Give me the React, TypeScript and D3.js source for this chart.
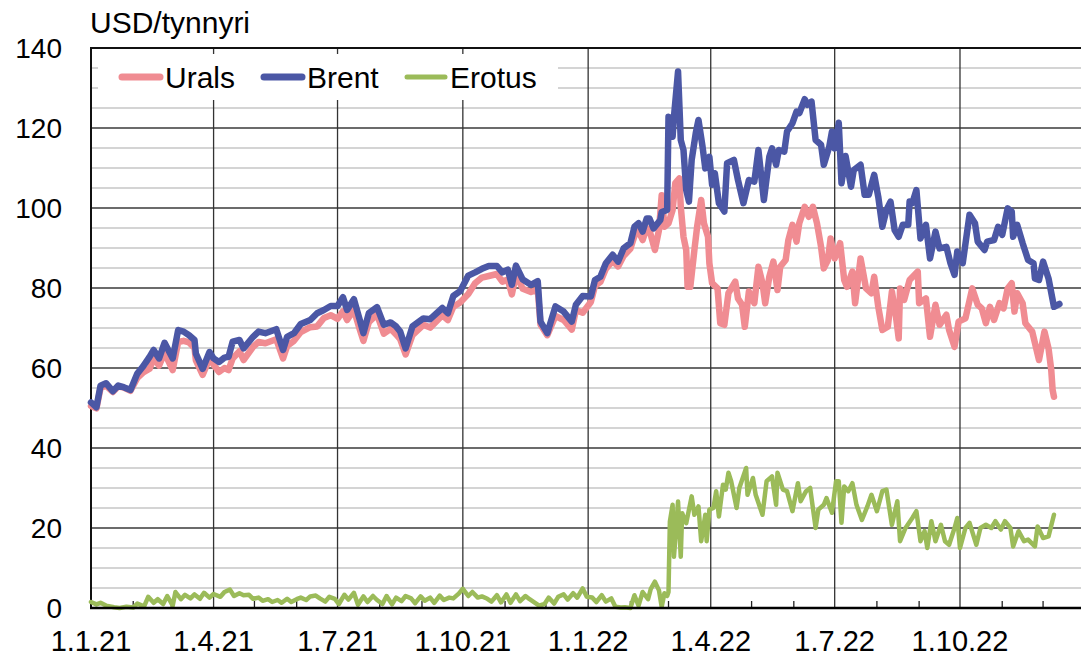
import * as d3 from "d3";
import { useEffect, useRef } from "react";

type Point = [string, number];

const urals: Point[] = [
    ["2021-01-01", 50.5], ["2021-01-05", 49.9], ["2021-01-08", 55.0], ["2021-01-12", 55.6], ["2021-01-17", 54.0],
    ["2021-01-21", 55.4], ["2021-01-25", 55.1], ["2021-01-30", 54.3], ["2021-02-04", 57.5], ["2021-02-08", 58.8],
    ["2021-02-13", 59.8], ["2021-02-16", 62.5], ["2021-02-20", 60.6], ["2021-02-24", 63.8], ["2021-03-02", 59.5],
    ["2021-03-06", 66.5], ["2021-03-10", 66.8], ["2021-03-14", 66.4], ["2021-03-18", 65.0], ["2021-03-19", 61.9],
    ["2021-03-24", 58.3], ["2021-03-29", 62.4], ["2021-04-01", 60.8], ["2021-04-05", 59.0], ["2021-04-09", 60.0],
    ["2021-04-12", 59.5], ["2021-04-15", 62.4], ["2021-04-20", 64.2], ["2021-04-23", 62.0], ["2021-04-30", 65.3],
    ["2021-05-04", 66.5], ["2021-05-09", 66.2], ["2021-05-17", 67.2], ["2021-05-22", 62.4], ["2021-05-25", 65.5],
    ["2021-05-30", 66.8], ["2021-06-04", 69.0], ["2021-06-11", 70.2], ["2021-06-16", 70.4], ["2021-06-21", 72.5],
    ["2021-06-26", 73.2], ["2021-07-01", 72.3], ["2021-07-05", 74.2], ["2021-07-08", 72.0], ["2021-07-13", 74.6],
    ["2021-07-17", 70.0], ["2021-07-20", 66.8], ["2021-07-24", 71.5], ["2021-07-30", 73.4], ["2021-08-04", 68.6],
    ["2021-08-09", 69.8], ["2021-08-13", 68.4], ["2021-08-16", 67.2], ["2021-08-20", 63.4], ["2021-08-25", 68.2],
    ["2021-09-02", 70.8], ["2021-09-07", 70.1], ["2021-09-16", 73.2], ["2021-09-20", 72.0], ["2021-09-24", 75.3],
    ["2021-09-29", 76.4], ["2021-10-05", 78.5], ["2021-10-10", 81.2], ["2021-10-15", 82.6], ["2021-10-20", 83.0],
    ["2021-10-26", 83.5], ["2021-10-30", 81.6], ["2021-11-03", 82.1], ["2021-11-06", 78.4], ["2021-11-09", 83.4],
    ["2021-11-14", 79.8], ["2021-11-20", 79.0], ["2021-11-25", 79.6], ["2021-11-27", 70.9], ["2021-12-02", 68.2],
    ["2021-12-08", 73.0], ["2021-12-14", 72.0], ["2021-12-20", 69.6], ["2021-12-23", 74.5], ["2021-12-28", 73.8],
    ["2022-01-03", 76.5], ["2022-01-06", 80.5], ["2022-01-10", 81.5], ["2022-01-14", 84.8], ["2022-01-19", 86.8],
    ["2022-01-23", 85.4], ["2022-01-27", 88.0], ["2022-02-01", 89.8], ["2022-02-04", 93.0], ["2022-02-07", 94.2],
    ["2022-02-10", 92.0], ["2022-02-13", 95.0], ["2022-02-15", 94.5], ["2022-02-19", 89.5], ["2022-02-22", 94.5],
    ["2022-02-24", 103.2], ["2022-02-26", 95.3], ["2022-03-01", 96.2], ["2022-03-04", 99.5], ["2022-03-06", 106.2],
    ["2022-03-09", 107.4], ["2022-03-10", 100.3], ["2022-03-12", 92.8], ["2022-03-14", 89.5], ["2022-03-15", 80.3],
    ["2022-03-17", 80.3], ["2022-03-20", 89.5], ["2022-03-22", 95.3], ["2022-03-25", 102.0], ["2022-03-27", 96.2],
    ["2022-03-30", 92.8], ["2022-03-31", 86.2], ["2022-04-02", 81.2], ["2022-04-06", 79.9], ["2022-04-08", 71.2],
    ["2022-04-11", 70.8], ["2022-04-14", 78.7], ["2022-04-19", 81.6], ["2022-04-21", 77.4], ["2022-04-24", 75.8],
    ["2022-04-26", 70.3], ["2022-04-29", 79.1], ["2022-05-03", 76.2], ["2022-05-06", 85.3], ["2022-05-09", 81.2],
    ["2022-05-11", 76.2], ["2022-05-14", 82.8], ["2022-05-17", 86.6], ["2022-05-20", 79.5], ["2022-05-22", 85.3],
    ["2022-05-26", 87.0], ["2022-05-28", 92.0], ["2022-05-31", 95.8], ["2022-06-03", 91.6], ["2022-06-05", 96.2],
    ["2022-06-09", 100.3], ["2022-06-12", 97.8], ["2022-06-15", 100.3], ["2022-06-18", 96.2], ["2022-06-21", 90.3],
    ["2022-06-23", 84.9], ["2022-06-26", 87.0], ["2022-06-28", 92.4], ["2022-07-01", 87.4], ["2022-07-05", 91.2],
    ["2022-07-08", 82.0], ["2022-07-10", 80.3], ["2022-07-14", 84.1], ["2022-07-16", 76.2], ["2022-07-20", 87.4],
    ["2022-07-24", 79.9], ["2022-07-28", 78.7], ["2022-07-30", 82.8], ["2022-08-02", 75.3], ["2022-08-05", 69.5],
    ["2022-08-09", 70.3], ["2022-08-12", 79.1], ["2022-08-15", 72.8], ["2022-08-17", 67.4], ["2022-08-18", 79.9],
    ["2022-08-21", 77.0], ["2022-08-25", 82.0], ["2022-08-31", 84.1], ["2022-09-01", 76.2], ["2022-09-06", 77.4],
    ["2022-09-09", 67.8], ["2022-09-13", 75.8], ["2022-09-16", 70.8], ["2022-09-21", 73.3], ["2022-09-23", 69.5],
    ["2022-09-27", 65.3], ["2022-09-30", 71.6], ["2022-10-05", 72.4], ["2022-10-10", 79.9], ["2022-10-14", 75.8],
    ["2022-10-17", 74.9], ["2022-10-20", 71.2], ["2022-10-23", 75.3], ["2022-10-26", 72.0], ["2022-10-30", 76.2],
    ["2022-11-02", 74.9], ["2022-11-05", 79.9], ["2022-11-08", 81.2], ["2022-11-10", 74.1], ["2022-11-12", 78.7],
    ["2022-11-16", 76.2], ["2022-11-18", 71.2], ["2022-11-23", 69.1], ["2022-11-28", 62.0], ["2022-12-02", 69.1],
    ["2022-12-05", 64.9], ["2022-12-07", 59.5], ["2022-12-08", 54.5], ["2022-12-09", 52.8],
];

const brent: Point[] = [
    ["2021-01-01", 51.4], ["2021-01-05", 50.2], ["2021-01-08", 55.6], ["2021-01-12", 56.2], ["2021-01-17", 54.2],
    ["2021-01-21", 55.6], ["2021-01-25", 55.2], ["2021-01-30", 54.5], ["2021-02-04", 58.6], ["2021-02-08", 60.3],
    ["2021-02-13", 62.8], ["2021-02-16", 64.5], ["2021-02-20", 62.4], ["2021-02-24", 66.3], ["2021-03-02", 62.4],
    ["2021-03-06", 69.5], ["2021-03-10", 69.1], ["2021-03-14", 68.2], ["2021-03-18", 67.0], ["2021-03-19", 63.6],
    ["2021-03-24", 59.8], ["2021-03-29", 64.0], ["2021-04-01", 62.4], ["2021-04-05", 61.5], ["2021-04-09", 62.6],
    ["2021-04-12", 62.8], ["2021-04-15", 66.6], ["2021-04-20", 67.0], ["2021-04-23", 64.9], ["2021-04-30", 67.8],
    ["2021-05-04", 69.1], ["2021-05-09", 68.7], ["2021-05-17", 69.7], ["2021-05-22", 64.5], ["2021-05-25", 67.8],
    ["2021-05-30", 68.7], ["2021-06-04", 71.0], ["2021-06-11", 72.0], ["2021-06-16", 73.7], ["2021-06-21", 74.5],
    ["2021-06-26", 75.5], ["2021-07-01", 75.5], ["2021-07-05", 77.7], ["2021-07-08", 74.5], ["2021-07-13", 77.2],
    ["2021-07-17", 72.4], ["2021-07-20", 68.7], ["2021-07-24", 73.7], ["2021-07-30", 75.2], ["2021-08-04", 70.8],
    ["2021-08-09", 71.4], ["2021-08-13", 70.4], ["2021-08-16", 69.1], ["2021-08-20", 64.9], ["2021-08-25", 70.4],
    ["2021-09-02", 72.4], ["2021-09-07", 72.2], ["2021-09-16", 75.0], ["2021-09-20", 73.7], ["2021-09-24", 78.0],
    ["2021-09-29", 79.2], ["2021-10-05", 83.1], ["2021-10-10", 83.9], ["2021-10-15", 84.8], ["2021-10-20", 85.5],
    ["2021-10-26", 85.5], ["2021-10-30", 83.9], ["2021-11-03", 84.6], ["2021-11-06", 80.8], ["2021-11-09", 85.6],
    ["2021-11-14", 82.1], ["2021-11-20", 80.8], ["2021-11-25", 81.7], ["2021-11-27", 71.6], ["2021-12-02", 68.7],
    ["2021-12-08", 75.4], ["2021-12-14", 74.1], ["2021-12-20", 71.6], ["2021-12-23", 75.8], ["2021-12-28", 78.0],
    ["2022-01-03", 77.9], ["2022-01-06", 82.0], ["2022-01-10", 82.8], ["2022-01-14", 86.2], ["2022-01-19", 88.3],
    ["2022-01-23", 86.6], ["2022-01-27", 89.9], ["2022-02-01", 91.2], ["2022-02-04", 95.3], ["2022-02-07", 96.2],
    ["2022-02-10", 94.1], ["2022-02-13", 97.4], ["2022-02-15", 97.4], ["2022-02-18", 94.9], ["2022-02-23", 97.0],
    ["2022-02-24", 99.0], ["2022-02-28", 99.5], ["2022-03-01", 122.8], ["2022-03-04", 117.8], ["2022-03-05", 122.8],
    ["2022-03-08", 134.1], ["2022-03-10", 117.0], ["2022-03-12", 114.5], ["2022-03-14", 104.5], ["2022-03-16", 101.6],
    ["2022-03-18", 112.0], ["2022-03-21", 118.7], ["2022-03-23", 122.0], ["2022-03-26", 115.3], ["2022-03-28", 109.9],
    ["2022-03-31", 112.8], ["2022-04-02", 105.8], ["2022-04-04", 108.7], ["2022-04-07", 101.2], ["2022-04-11", 99.1],
    ["2022-04-13", 111.2], ["2022-04-18", 112.0], ["2022-04-21", 107.0], ["2022-04-25", 101.2], ["2022-04-29", 107.0],
    ["2022-05-03", 106.6], ["2022-05-06", 114.5], ["2022-05-10", 102.0], ["2022-05-14", 112.8], ["2022-05-16", 114.9],
    ["2022-05-19", 110.8], ["2022-05-21", 114.5], ["2022-05-25", 114.1], ["2022-05-27", 119.1], ["2022-05-31", 121.2],
    ["2022-06-03", 124.1], ["2022-06-05", 123.7], ["2022-06-09", 127.2], ["2022-06-11", 125.8], ["2022-06-14", 126.6],
    ["2022-06-17", 117.0], ["2022-06-21", 115.8], ["2022-06-23", 110.8], ["2022-06-27", 115.3], ["2022-06-29", 119.1],
    ["2022-07-01", 114.9], ["2022-07-04", 121.3], ["2022-07-06", 106.2], ["2022-07-09", 113.0], ["2022-07-13", 105.3],
    ["2022-07-15", 109.5], ["2022-07-20", 110.8], ["2022-07-23", 103.3], ["2022-07-26", 103.3], ["2022-07-30", 108.3],
    ["2022-08-02", 102.8], ["2022-08-05", 95.3], ["2022-08-08", 99.5], ["2022-08-11", 101.6], ["2022-08-14", 94.5],
    ["2022-08-17", 92.8], ["2022-08-20", 95.8], ["2022-08-24", 95.8], ["2022-08-25", 101.6], ["2022-08-27", 101.2],
    ["2022-08-30", 104.5], ["2022-09-02", 92.4], ["2022-09-06", 95.8], ["2022-09-09", 87.4], ["2022-09-13", 94.1],
    ["2022-09-16", 89.9], ["2022-09-21", 90.3], ["2022-09-24", 86.2], ["2022-09-27", 83.3], ["2022-09-29", 89.1],
    ["2022-10-03", 86.2], ["2022-10-08", 98.3], ["2022-10-12", 96.2], ["2022-10-14", 91.6], ["2022-10-19", 89.5],
    ["2022-10-21", 91.6], ["2022-10-26", 92.0], ["2022-10-29", 95.3], ["2022-11-01", 93.3], ["2022-11-05", 99.9],
    ["2022-11-08", 99.1], ["2022-11-09", 92.8], ["2022-11-12", 95.8], ["2022-11-16", 91.2], ["2022-11-20", 87.0],
    ["2022-11-24", 86.2], ["2022-11-25", 82.4], ["2022-11-28", 82.0], ["2022-12-01", 86.6], ["2022-12-05", 82.4],
    ["2022-12-09", 75.3], ["2022-12-13", 76.0],
];

const erotus: Point[] = [
    ["2021-01-01", 1.5], ["2021-01-05", 0.9], ["2021-01-08", 1.3], ["2021-01-12", 0.6], ["2021-01-18", 0.2],
    ["2021-01-22", 0.0], ["2021-01-27", 0.3], ["2021-02-01", 0.1], ["2021-02-04", 1.1], ["2021-02-09", 0.4],
    ["2021-02-12", 2.8], ["2021-02-16", 1.3], ["2021-02-19", 2.2], ["2021-02-23", 1.0], ["2021-02-26", 3.0],
    ["2021-03-02", 0.6], ["2021-03-04", 4.0], ["2021-03-08", 2.2], ["2021-03-11", 3.3], ["2021-03-15", 2.4],
    ["2021-03-18", 3.4], ["2021-03-22", 2.3], ["2021-03-25", 3.8], ["2021-03-29", 2.6], ["2021-04-01", 3.5],
    ["2021-04-06", 2.8], ["2021-04-09", 4.0], ["2021-04-13", 4.6], ["2021-04-16", 3.0], ["2021-04-20", 3.7],
    ["2021-04-23", 3.2], ["2021-04-27", 3.3], ["2021-04-30", 2.3], ["2021-05-04", 2.6], ["2021-05-07", 1.8],
    ["2021-05-11", 2.2], ["2021-05-14", 1.5], ["2021-05-18", 2.0], ["2021-05-21", 1.3], ["2021-05-25", 2.3],
    ["2021-05-28", 1.5], ["2021-06-01", 2.2], ["2021-06-04", 2.6], ["2021-06-08", 2.0], ["2021-06-11", 2.9],
    ["2021-06-15", 3.1], ["2021-06-18", 2.4], ["2021-06-22", 1.6], ["2021-06-25", 2.8], ["2021-06-29", 2.3],
    ["2021-07-02", 1.0], ["2021-07-06", 3.3], ["2021-07-09", 2.1], ["2021-07-13", 3.8], ["2021-07-16", 0.8],
    ["2021-07-20", 2.9], ["2021-07-23", 1.5], ["2021-07-27", 3.0], ["2021-07-30", 2.0], ["2021-08-03", 1.0],
    ["2021-08-06", 3.0], ["2021-08-10", 0.9], ["2021-08-13", 2.6], ["2021-08-17", 1.7], ["2021-08-20", 3.0],
    ["2021-08-24", 2.4], ["2021-08-27", 1.2], ["2021-08-31", 2.9], ["2021-09-03", 1.8], ["2021-09-07", 2.6],
    ["2021-09-10", 1.3], ["2021-09-14", 3.1], ["2021-09-17", 2.0], ["2021-09-21", 2.6], ["2021-09-24", 2.4],
    ["2021-09-28", 3.6], ["2021-10-01", 4.8], ["2021-10-05", 3.0], ["2021-10-08", 4.0], ["2021-10-12", 2.6],
    ["2021-10-15", 2.9], ["2021-10-19", 2.3], ["2021-10-22", 1.6], ["2021-10-26", 3.2], ["2021-10-29", 1.4],
    ["2021-11-02", 3.4], ["2021-11-05", 1.3], ["2021-11-09", 3.4], ["2021-11-12", 1.7], ["2021-11-16", 3.0],
    ["2021-11-19", 2.2], ["2021-11-23", 1.3], ["2021-11-26", 0.6], ["2021-11-30", 1.0], ["2021-12-03", 2.6],
    ["2021-12-07", 1.1], ["2021-12-10", 2.8], ["2021-12-14", 3.4], ["2021-12-17", 2.1], ["2021-12-21", 3.7],
    ["2021-12-24", 2.6], ["2021-12-28", 4.9], ["2021-12-31", 2.8], ["2022-01-04", 2.6], ["2022-01-07", 1.5],
    ["2022-01-11", 3.2], ["2022-01-14", 1.6], ["2022-01-18", 2.4], ["2022-01-21", 0.3], ["2022-01-25", 0.1],
    ["2022-01-28", 0.2], ["2022-02-01", 0.0], ["2022-02-04", 3.2], ["2022-02-07", 0.6], ["2022-02-10", 4.0],
    ["2022-02-14", 2.2], ["2022-02-16", 4.8], ["2022-02-19", 6.6], ["2022-02-22", 4.4], ["2022-02-24", 0.3],
    ["2022-02-26", 3.7], ["2022-02-28", 3.0], ["2022-03-01", 4.0], ["2022-03-02", 21.6], ["2022-03-04", 25.8],
    ["2022-03-05", 12.8], ["2022-03-08", 26.6], ["2022-03-10", 12.8], ["2022-03-11", 23.7], ["2022-03-14", 21.2],
    ["2022-03-18", 27.9], ["2022-03-20", 23.3], ["2022-03-23", 25.4], ["2022-03-25", 16.7], ["2022-03-28", 23.3],
    ["2022-03-29", 16.7], ["2022-03-31", 24.6], ["2022-04-03", 25.0], ["2022-04-05", 29.2], ["2022-04-07", 22.9],
    ["2022-04-10", 30.8], ["2022-04-12", 29.6], ["2022-04-14", 33.8], ["2022-04-16", 31.7], ["2022-04-20", 25.0],
    ["2022-04-22", 30.0], ["2022-04-27", 35.0], ["2022-04-28", 28.3], ["2022-05-02", 32.5], ["2022-05-04", 28.3],
    ["2022-05-09", 23.3], ["2022-05-12", 31.7], ["2022-05-16", 32.9], ["2022-05-19", 25.8], ["2022-05-20", 33.8],
    ["2022-05-24", 29.6], ["2022-05-27", 29.2], ["2022-05-31", 24.2], ["2022-06-04", 31.2], ["2022-06-06", 26.7],
    ["2022-06-10", 29.2], ["2022-06-13", 30.0], ["2022-06-17", 20.0], ["2022-06-19", 24.6], ["2022-06-23", 25.8],
    ["2022-06-25", 27.5], ["2022-06-29", 23.8], ["2022-07-02", 31.7], ["2022-07-04", 31.7], ["2022-07-06", 21.3],
    ["2022-07-08", 30.4], ["2022-07-11", 29.2], ["2022-07-14", 31.2], ["2022-07-17", 25.8], ["2022-07-21", 22.0],
    ["2022-07-25", 25.4], ["2022-07-28", 28.3], ["2022-08-01", 24.2], ["2022-08-05", 29.2], ["2022-08-08", 29.6],
    ["2022-08-12", 20.8], ["2022-08-16", 26.7], ["2022-08-18", 16.7], ["2022-08-22", 20.0], ["2022-08-27", 22.5],
    ["2022-08-30", 24.2], ["2022-09-02", 16.7], ["2022-09-05", 19.2], ["2022-09-07", 15.0], ["2022-09-10", 21.7],
    ["2022-09-13", 16.7], ["2022-09-17", 20.8], ["2022-09-20", 16.7], ["2022-09-23", 15.8], ["2022-09-27", 20.0],
    ["2022-09-29", 22.5], ["2022-10-01", 15.0], ["2022-10-05", 20.0], ["2022-10-08", 21.3], ["2022-10-13", 15.8],
    ["2022-10-16", 20.0], ["2022-10-20", 20.8], ["2022-10-24", 20.0], ["2022-10-27", 21.7], ["2022-10-31", 19.6],
    ["2022-11-03", 21.7], ["2022-11-07", 20.0], ["2022-11-09", 15.4], ["2022-11-13", 19.2], ["2022-11-17", 16.7],
    ["2022-11-20", 17.1], ["2022-11-25", 15.4], ["2022-11-27", 20.4], ["2022-12-01", 17.5], ["2022-12-05", 17.9],
    ["2022-12-09", 23.3],
];

const seriesNames = ["Urals", "Brent", "Erotus"];
const seriesColors = ["#f08c92", "#4b57a5", "#9bbb59"];
const seriesWidths = [6.5, 6.5, 4.5];
const yTicks = [0, 20, 40, 60, 80, 100, 120, 140];
const xTicks = ["2021-01-01", "2021-04-01", "2021-07-01", "2021-10-01", "2022-01-01", "2022-04-01", "2022-07-01", "2022-10-01"];
const xTickLabels = ["1.1.21", "1.4.21", "1.7.21", "1.10.21", "1.1.22", "1.4.22", "1.7.22", "1.10.22"];
const unitLabel = "USD/tynnyri";

const App = () => {
    const ref = useRef<SVGSVGElement | null>(null);

    useEffect(() => {
        if (!ref.current) return;

        const width = 1081;
        const left = 91, top = 48, bottom = 608;
        const font = "Arial, 'Liberation Sans', sans-serif";
        const parse = d3.timeParse("%Y-%m-%d");

        const svg = d3.select(ref.current);
        svg.selectAll("*").remove();

        const x = d3.scaleTime()
            .domain([parse("2021-01-01")!, parse("2023-01-01")!])
            .range([left, 1085.3]);
        const y = d3.scaleLinear().domain([0, 140]).range([bottom, top]);

        // minor horizontal grid every 5
        const minor = d3.range(5, 140, 5).filter(v => v % 20 !== 0);
        svg.append("g").selectAll("line").data(minor).join("line")
            .attr("x1", left).attr("x2", width)
            .attr("y1", d => y(d)).attr("y2", d => y(d))
            .attr("stroke", "#c6c6c6").attr("stroke-width", 1.5);

        // major horizontal grid
        svg.append("g").selectAll("line").data(yTicks.filter(v => v > 0 && v < 140)).join("line")
            .attr("x1", left).attr("x2", width)
            .attr("y1", d => y(d)).attr("y2", d => y(d))
            .attr("stroke", "#3a3a3a").attr("stroke-width", 1.3);

        // quarter lines
        svg.append("g").selectAll("line").data(xTicks.slice(1)).join("line")
            .attr("x1", d => x(parse(d)!)).attr("x2", d => x(parse(d)!))
            .attr("y1", top).attr("y2", bottom)
            .attr("stroke", "#333").attr("stroke-width", 1.3);

        // month ticks on the bottom axis
        const months = d3.timeMonth.range(parse("2021-02-01")!, parse("2023-01-01")!)
            .filter(d => d.getMonth() % 3 !== 0);
        svg.append("g").selectAll("line").data(months).join("line")
            .attr("x1", d => x(d)).attr("x2", d => x(d))
            .attr("y1", bottom).attr("y2", bottom - 7)
            .attr("stroke", "#222").attr("stroke-width", 1.3);

        // legend background
        svg.append("rect")
            .attr("x", 98).attr("y", 54).attr("width", 460).attr("height", 46)
            .attr("fill", "white");

        // frame
        svg.append("line").attr("x1", left).attr("x2", width).attr("y1", top).attr("y2", top)
            .attr("stroke", "#111").attr("stroke-width", 2);
        svg.append("line").attr("x1", left).attr("x2", left).attr("y1", top - 1).attr("y2", bottom)
            .attr("stroke", "#111").attr("stroke-width", 2);

        // series
        const line = d3.line<Point>()
            .x(d => x(parse(d[0])!))
            .y(d => y(d[1]));
        [urals, brent, erotus].forEach((data, i) => {
            svg.append("path")
                .datum(data)
                .attr("d", line)
                .attr("fill", "none")
                .attr("stroke", seriesColors[i])
                .attr("stroke-width", seriesWidths[i])
                .attr("stroke-linejoin", "round")
                .attr("stroke-linecap", "round");
        });

        svg.append("line").attr("x1", left - 1).attr("x2", width).attr("y1", bottom).attr("y2", bottom)
            .attr("stroke", "#000").attr("stroke-width", 2.5);

        // y labels
        svg.append("g").selectAll("text").data(yTicks).join("text")
            .attr("x", 62).attr("y", d => y(d) + 10)
            .attr("text-anchor", "end")
            .style("font-family", font).style("font-size", "28px").style("fill", "#000")
            .text(d => d);

        // x labels
        svg.append("g").selectAll("text").data(xTicks).join("text")
            .attr("x", d => x(parse(d)!)).attr("y", 651)
            .attr("text-anchor", "middle")
            .style("font-family", font).style("font-size", "29px").style("fill", "#000")
            .text((d, i) => xTickLabels[i]);

        svg.append("text")
            .attr("x", 90).attr("y", 33)
            .style("font-family", font).style("font-size", "30px").style("fill", "#000")
            .text(unitLabel);

        // legend
        const legendX = [122, 264, 407];
        const legend = svg.append("g");
        seriesNames.forEach((name, i) => {
            legend.append("line")
                .attr("x1", legendX[i]).attr("x2", legendX[i] + 38)
                .attr("y1", 77).attr("y2", 77)
                .attr("stroke", seriesColors[i]).attr("stroke-width", seriesWidths[i] + 0.5)
                .attr("stroke-linecap", "round");
            legend.append("text")
                .attr("x", legendX[i] + 43).attr("y", 88)
                .style("font-family", font).style("font-size", "30px").style("fill", "#000")
                .text(name);
        });
    }, []);

    return <svg width={1081} height={659} ref={ref} style={{ position: "absolute", left: 0, top: 0 }} />;
};

export default App;
